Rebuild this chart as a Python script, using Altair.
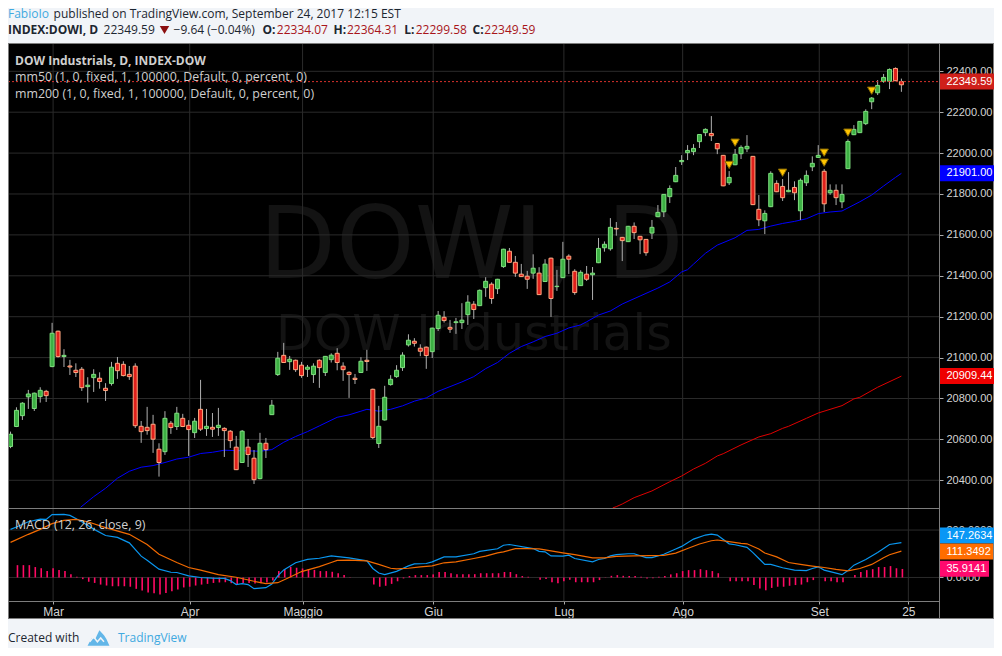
import altair as alt
import pandas as pd

# ---------- candle data, bar index -1 .. 149 ----------
opens = [20565,20663,20716,20808,20751,20809,20835,20956,21129,21005,20959,20938,20943,20858,20902,20899,20850,20873,20972,20967,
20918,20958,20664,20659,20674,20552,20540,20679,20663,20703,20669,20633,20747,20653,20659,20658,20654,20640,20562,20487,
20562,20508,20408,20581,20721,20917,21011,20980,20987,20963,20943,20917,20987,20927,20990,21021,20958,20928,20899,20927,
20987,20845,20580,20695,20868,20907,20951,21062,21080,21046,21051,21029,21142,21197,21148,21171,21171,21210,21261,21254,
21342,21359,21337,21445,21520,21466,21408,21398,21413,21413,21372,21486,21347,21391,21496,21422,21352,21408,21405,21464,
21537,21532,21632,21588,21567,21642,21593,21578,21609,21689,21713,21787,21860,21958,22002,22007,22056,22100,22096,22047,
21989,21855,21943,21997,22021,21984,21725,21669,21738,21852,21837,21811,21832,21718,21855,21933,21979,21911,21806,21818,
21762,21924,22090,22100,22144,22251,22295,22351,22351,22414,22349.59]
highs = [20638,20757,20782,20842,20829,20855,20842,21170,21132,21041,20989,20972,20954,20904,20943,20928,20875,20979,21003,20982,
20959,20972,20690,20759,20720,20581,20738,20690,20759,20725,20694,20705,20891,20749,20729,20754,20659,20646,20617,20646,
20602,20548,20632,20607,20793,21028,21072,21008,20990,20979,20964,20972,20992,21008,21021,21046,20977,20933,20920,21002,
21038,20848,20764,20862,20914,20963,21026,21114,21095,21065,21054,21146,21228,21227,21184,21194,21266,21305,21276,21333,
21393,21368,21385,21532,21536,21497,21458,21424,21505,21442,21481,21489,21429,21566,21505,21432,21427,21448,21443,21585,
21568,21682,21663,21590,21644,21661,21595,21580,21673,21746,21800,21842,21932,21990,22039,22044,22093,22121,22181,22049,
21991,21912,22020,22038,22088,21986,21795,21720,21911,21867,21873,21907,21862,21876,21915,21984,22039,21922,21847,21847,
21847,22067,22137,22157,22214,22274,22357,22387,22414,22419,22364.31]
lows = [20557,20660,20695,20749,20739,20780,20783,20953,21000,20954,20915,20905,20837,20780,20832,20848,20788,20863,20896,20908,
20891,20656,20583,20623,20534,20418,20524,20627,20646,20660,20519,20607,20641,20617,20612,20617,20514,20558,20450,20485,
20465,20382,20405,20509,20720,20910,20975,20940,20930,20901,20905,20876,20852,20910,20976,20938,20886,20803,20871,20925,
20935,20602,20558,20692,20863,20901,20935,21054,21054,21007,20945,20998,21130,21171,21121,21116,21140,21160,21189,21252,
21297,21263,21311,21439,21464,21395,21394,21336,21385,21306,21370,21199,21326,21389,21409,21307,21350,21375,21282,21462,
21518,21523,21596,21472,21565,21580,21506,21498,21580,21687,21687,21756,21858,21942,21966,21990,22025,22083,22059,21995,
21838,21844,21941,21971,22005,21746,21643,21604,21736,21809,21766,21809,21770,21673,21839,21912,21977,21712,21796,21746,
21731,21922,22088,22098,22137,22215,22284,22344,22313,22352,22299.58]
closes = [20625,20742,20777,20822,20826,20840,20814,21119,21005,21011,20954,20927,20853,20865,20918,20883,20839,20953,20936,20912,
20907,20667,20638,20643,20601,20487,20703,20658,20728,20663,20648,20689,20650,20664,20650,20669,20643,20594,20452,20640,
20526,20403,20581,20550,20767,20997,20976,20992,20941,20912,20953,20958,20951,21006,21012,20976,20941,20917,20893,20982,
20981,20609,20664,20806,20894,20938,21012,21085,21070,21031,21010,21144,21207,21181,21139,21175,21183,21271,21235,21329,
21373,21289,21383,21530,21466,21413,21396,21383,21437,21308,21457,21289,21349,21481,21481,21318,21417,21383,21413,21534,
21554,21637,21629,21572,21642,21611,21576,21513,21637,21710,21798,21827,21891,21964,22013,22023,22091,22116,22085,22021,
21840,21881,21994,22028,22033,21748,21674,21705,21901,21811,21782,21818,21806,21867,21891,21950,21989,21752,21818,21782,
21798,22057,22116,22155,22204,22269,22331,22370,22409,22354,22334.07]

# ---------- moving averages ----------
ma50_i = [10.8,13,15,17,19,21,23,25,27,29,31,33,35,37,39,41,43,45,47,49,51,54,56,58,59,61,63,65,67,69,71,73,75,77,79,81,83,85,87,89,91,93,95,96,98,100,102,105,108,110,112,113,114,116,118,121,123,125,127,129,131,133,135,137,139,142,144,146,148,149]
ma50_v = [20268,20320,20361,20410,20444,20464,20472,20487,20504,20513,20531,20537,20547,20545,20544,20542,20550,20586,20614,20638,20666,20708,20720,20738,20747,20738,20747,20764,20787,20803,20835,20858,20881,20907,20946,20976,21021,21054,21077,21103,21119,21145,21160,21175,21208,21228,21262,21301,21340,21370,21419,21430,21457,21510,21550,21586,21622,21627,21643,21656,21666,21679,21704,21712,21717,21762,21795,21839,21881,21901]
ma200_i = [100.4,101,102,104,107,110,112,114,116,118,119,122,125,127,129,130,133,135,139,141,142,145,149]
ma200_v = [20265,20271,20284,20315,20348,20393,20421,20455,20483,20519,20530,20573,20612,20628,20654,20664,20703,20729,20765,20798,20806,20855,20909.44]

# ---------- MACD ----------
macd_i = [-1,0,2,4,5,6,8,9,10,11,13,15,17,19,21,22,24,26,27,29,31,33,35,36,37,38,39,40,42,43,44,45,47,49,51,53,56,59,60,61,62,64,66,67,69,70,72,74,77,78,81,82,83,87,88,89,90,92,93,94,97,98,99,100,101,103,104,106,107,109,111,112,114,116,117,118,120,121,123,124,125,126,127,129,131,133,134,135,136,137,139,140,141,143,145,147,149]
macd_v = [203,213,235,246,245,265,266,262,249,235,204,177,169,146,90,73,35,22,21,7,0,-3,-4,-13,-30,-26,-30,-47,-43,-28,7,32,62,76,81,91,83,70,38,19,12,26,49,57,59,66,87,87,100,110,121,136,139,122,110,108,91,90,94,80,66,76,80,91,96,100,100,84,84,98,120,131,162,179,183,179,142,138,127,105,80,55,55,41,31,29,38,45,31,25,12,29,52,76,105,139,147.26]
signal_i = [-1,2,4,6,8,10,12,15,19,22,24,27,29,31,34,37,40,42,44,46,48,51,53,54,56,59,61,63,64,66,68,70,72,74,77,79,81,82,84,86,88,90,92,94,97,99,101,104,109,111,113,115,117,118,120,122,123,125,126,128,130,132,134,136,138,140,142,144,146,147,149]
signal_v = [148,182,203,227,241,245,235,210,182,139,98,63,42,31,12,1,-16,-26,-22,1,25,46,63,72,73,70,55,39,36,39,45,49,62,66,80,90,104,108,122,122,121,112,104,96,83,83,89,91,93,103,122,141,155,158,151,144,142,120,103,87,63,55,48,42,34,28,38,55,83,96,111.35]
hist_v = [52,52,52,44,39,27,39,32,27,14,3,-7,-18,-23,-30,-34,-37,-37,-37,-39,-48,-55,-63,-66,-72,-65,-58,-51,-42,-39,-34,-30,-27,-23,-21,-20,-24,-28,-23,-23,
-25,-24,-21,-13,27,35,45,41,38,35,32,27,27,24,18,10,1,0,0,0,-30,-39,-35,-27,-16,-4,6,10,10,10,13,23,23,18,14,14,14,14,18,18,
18,18,23,23,14,6,3,0,-10,-6,-20,-24,-16,-10,-20,-20,-20,-20,-11,-1,7,10,7,6,6,3,-4,-3,3,6,13,18,27,31,31,35,31,27,18,0,
-16,-16,-16,-16,-32,-47,-54,-44,-39,-39,-35,-32,-30,-20,-11,0,-16,-16,-20,-20,0,10,23,31,35,44,44,48,39,35.91]

# ---------- markers and tick labels ----------
arrow_i = [120,121,129,136,136,140,144]
arrow_v = [21942,22051,21904,22002,21953,22100,22305]
price_ticks = [20400,20600,20800,21000,21200,21400,21600,21800,22000,22200,22400]
macd_ticks = [0,200]
x_ticks = [6.17,29.17,48.17,70.17,92.17,112.17,135.17,150.17]
x_labels = ["Mar","Apr","Maggio","Giu","Lug","Ago","Set","25"]

BG = "#f1f4f8"
GRID = "#2b2b2b"
FRAME = "#7d7d7d"
PANEL_FONT = "Liberation Sans"
HEAD_FONT = "Open Sans"

bars = pd.DataFrame({"i": list(range(-1, 150)), "open": opens, "high": highs, "low": lows, "close": closes})
hist = pd.DataFrame({"i": list(range(0, 150)), "v": hist_v})
one = pd.DataFrame({"a": [0]})

xs = alt.Scale(domain=[-3.5/6, (986-3.5)/6], range=[0, 986], nice=False, zero=False)
py = alt.Scale(domain=[20264.5, 22538.4], range=[500, 35], nice=False, zero=False)
my = alt.Scale(domain=[-99.2, 288.8], range=[593, 501], nice=False, zero=False)

X = lambda f: alt.X(f, type="quantitative", scale=xs, axis=None)
PY = lambda f: alt.Y(f, type="quantitative", scale=py, axis=None)
MY = lambda f: alt.Y(f, type="quantitative", scale=my, axis=None)


def text(t, x, y, size=12, color="#cfcfcf", font=PANEL_FONT, weight="normal", align="left"):
    return alt.Chart(one).mark_text(text=t, align=align, baseline="middle", font=font, fontSize=size,
                                    color=color, fontWeight=weight).encode(x=alt.value(x), y=alt.value(y))


layers = []

# header strip above the pane
layers.append(alt.Chart(one).mark_rect(color=BG).encode(x=alt.value(0), x2=alt.value(986), y=alt.value(0), y2=alt.value(35)))

# watermarks
layers.append(text("DOWI, D", 251, 240, size=100, color="#131313", font="DejaVu Sans"))
layers.append(text("DOW Industrials", 268, 327, size=49, color="#131313", font="DejaVu Sans"))

# grid with axes
layers.append(alt.Chart(pd.DataFrame({"t": x_ticks, "lab": x_labels})).mark_rule(color=GRID).encode(
    x=alt.X("t:Q", scale=xs, axis=alt.Axis(
        values=x_ticks, orient="bottom", offset=-18, domain=False, grid=False, title=None,
        tickColor="#aaaaaa", tickSize=3, labelColor="#d4d4d4", labelFont=PANEL_FONT, labelFontSize=12, labelPadding=2,
        labelExpr="['" + "','".join(x_labels) + "'][indexof([" + ",".join(map(str, x_ticks)) + "], datum.value)]")),
    y=alt.value(35), y2=alt.value(593)))
layers.append(alt.Chart(pd.DataFrame({"p": price_ticks})).mark_rule(color=GRID).encode(
    x=alt.value(0), x2=alt.value(931),
    y=alt.Y("p:Q", scale=py, axis=alt.Axis(
        values=price_ticks, orient="right", offset=-55, format=".2f", domain=False, grid=False, title=None,
        tickColor="#aaaaaa", tickSize=4, labelColor="#d4d4d4", labelFont=PANEL_FONT, labelFontSize=11, labelPadding=3))))
layers.append(alt.Chart(pd.DataFrame({"p": macd_ticks})).mark_rule(color=GRID).encode(
    x=alt.value(0), x2=alt.value(931),
    y=alt.Y("p:Q", scale=my, axis=alt.Axis(
        values=macd_ticks, orient="right", offset=-55, format=".4f", domain=False, grid=False, title=None,
        tickColor="#aaaaaa", tickSize=4, labelColor="#d4d4d4", labelFont=PANEL_FONT, labelFontSize=11, labelPadding=3))))

# moving averages under candles
layers.append(alt.Chart(pd.DataFrame({"i": ma50_i, "v": ma50_v})).mark_line(color="#0000ff", strokeWidth=1).encode(x=X("i"), y=PY("v")))
layers.append(alt.Chart(pd.DataFrame({"i": ma200_i, "v": ma200_v})).mark_line(color="#e00000", strokeWidth=1).encode(x=X("i"), y=PY("v")))

# candles
layers.append(alt.Chart(bars).mark_rule(color="#b0b0b0", strokeWidth=1).encode(x=X("i"), y=PY("high"), y2="low"))
is_up = "datum.close >= datum.open"
layers.append(alt.Chart(bars).mark_bar(size=4, strokeWidth=1, orient="vertical").encode(
    x=X("i"), y=PY("open"), y2="close",
    fill=alt.condition(is_up, alt.value("#3cb043"), alt.value("#e0201b")),
    stroke=alt.condition(is_up, alt.value("#7fdf7f"), alt.value("#ffa880"))))

# last price line
layers.append(alt.Chart(pd.DataFrame({"p": [22349.59]})).mark_rule(color="#d8322c", strokeDash=[2, 2], strokeWidth=1).encode(
    x=alt.value(0), x2=alt.value(931), y=PY("p")))

# arrows
layers.append(alt.Chart(pd.DataFrame({"i": arrow_i, "v": arrow_v})).mark_point(
    shape="triangle-down", size=70, filled=True, fill="#ffc400", stroke="#8a6a00", strokeWidth=1, opacity=1).encode(x=X("i"), y=PY("v")))

# MACD
layers.append(alt.Chart(hist).mark_rule(color="#ff0a64", strokeWidth=1.6, xOffset=1).encode(x=X("i"), y=MY("v"), y2=alt.datum(0)))
layers.append(alt.Chart(pd.DataFrame({"i": macd_i, "v": macd_v})).mark_line(color="#0a97f0", strokeWidth=1.2).encode(x=X("i"), y=MY("v")))
layers.append(alt.Chart(pd.DataFrame({"i": signal_i, "v": signal_v})).mark_line(color="#f26a00", strokeWidth=1.2).encode(x=X("i"), y=MY("v")))

# frame
layers.append(alt.Chart(one).mark_rule(color=FRAME).encode(x=alt.value(0.5), x2=alt.value(986), y=alt.value(35.5)))
layers.append(alt.Chart(one).mark_rule(color=FRAME).encode(x=alt.value(0.5), x2=alt.value(986), y=alt.value(610.5)))
layers.append(alt.Chart(one).mark_rule(color=FRAME).encode(x=alt.value(0.5), x2=alt.value(931.5), y=alt.value(500.5)))
layers.append(alt.Chart(one).mark_rule(color=FRAME).encode(x=alt.value(0.5), x2=alt.value(931.5), y=alt.value(593.5)))
layers.append(alt.Chart(one).mark_rule(color=FRAME).encode(x=alt.value(0.5), y=alt.value(35), y2=alt.value(611)))
layers.append(alt.Chart(one).mark_rule(color=FRAME).encode(x=alt.value(931.5), y=alt.value(35), y2=alt.value(611)))
layers.append(alt.Chart(one).mark_rule(color=FRAME).encode(x=alt.value(985.5), y=alt.value(35), y2=alt.value(611)))

# last-value flags
for val, col, lab in [(22349.59, "#cf1f1a", "22349.59"), (21901.0, "#0000ff", "21901.00"), (20909.44, "#ee0000", "20909.44")]:
    d = pd.DataFrame({"p": [val]})
    layers.append(alt.Chart(d).mark_rule(color=col, strokeWidth=16).encode(x=alt.value(932), x2=alt.value(986), y=PY("p")))
    layers.append(alt.Chart(d).mark_text(text=lab, align="left", baseline="middle", font=PANEL_FONT, fontSize=11, color="#ffffff").encode(
        x=alt.value(938.5), y=PY("p")))
for yy, end, col, lab in [(527.5, 986, "#0a97f5", "147.2634"), (543.5, 985, "#ff6d00", "111.3492"), (560.7, 981, "#ff0a6e", "35.9141")]:
    layers.append(alt.Chart(one).mark_rule(color=col, strokeWidth=16).encode(x=alt.value(932), x2=alt.value(end), y=alt.value(yy)))
    layers.append(text(lab, 938.5, yy, size=11, color="#ffffff"))

# pane legends
layers.append(text("DOW Industrials, D, INDEX-DOW", 7, 52.5, weight="bold", font=HEAD_FONT, size=12))
layers.append(text("mm50 (1, 0, fixed, 1, 100000, Default, 0, percent, 0)", 7, 69, font=HEAD_FONT, size=12.4))
layers.append(text("mm200 (1, 0, fixed, 1, 100000, Default, 0, percent, 0)", 7, 86, font=HEAD_FONT, size=12.4))
layers.append(text("MACD (12, 26, close, 9)", 7, 517, font=HEAD_FONT, size=12.4))

# page header
DARK = "#1c2630"
RED = "#a8141a"
layers.append(text("FabioIo", 0, 5.5, color="#3fa9e0", font=HEAD_FONT))
layers.append(text("published on TradingView.com, September 24, 2017 12:15 EST", 45.6, 5.5, color=DARK, font=HEAD_FONT))
layers.append(text("INDEX:DOWI, D", 0, 21.5, color=DARK, font=HEAD_FONT, weight="bold"))
layers.append(text("22349.59", 95.6, 21.5, color=DARK, font=HEAD_FONT))
layers.append(alt.Chart(one).mark_point(shape="triangle-down", size=90, filled=True, color="#8b0f0f", opacity=1).encode(x=alt.value(156.5), y=alt.value(22)))
layers.append(text("\u22129.64 (\u22120.04%)", 165.6, 21.5, color=DARK, font=HEAD_FONT))
for lab, lx, val, vx in [("O:", 254.5, "22334.07", 268.8), ("H:", 325.6, "22364.31", 339), ("L:", 396.3, "22299.58", 407.7), ("C:", 464.5, "22349.59", 476.3)]:
    layers.append(text(lab, lx, 21.5, color=DARK, font=HEAD_FONT, weight="bold"))
    layers.append(text(val, vx, 21.5, color=RED, font=HEAD_FONT))

# footer
layers.append(text("Created with", 0, 630, color=DARK, font=HEAD_FONT))
layers.append(alt.Chart(one).mark_point(shape="M-1,0.7 L-0.62,0 L-0.3,0.1 L0.08,-0.7 L0.5,-0.25 L0.72,0.1 L1,0.7 Z", size=480, filled=True, color="#62b6e8", opacity=1).encode(x=alt.value(90.5), y=alt.value(630)))
layers.append(alt.Chart(one).mark_point(shape="M-0.8,0.35 L-0.45,-0.1 L-0.1,0.35 L0.2,0 L0.5,0.35", size=480, filled=False, color=BG, strokeWidth=1.5, opacity=1).encode(x=alt.value(90.5), y=alt.value(630)))
layers.append(text("TradingView", 110, 630, color="#3fa9e0", font=HEAD_FONT))

chart = alt.layer(*layers).resolve_scale(y="independent").resolve_axis(x="independent").properties(
    width=986, height=611, background=BG,
    autosize=alt.AutoSizeParams(type="none"),
    padding={"left": 0, "top": 0, "right": 0, "bottom": 29},
).configure_view(fill="#000000", stroke=None)

chart.save("out.html", embed_options={"renderer": "svg", "actions": False})
